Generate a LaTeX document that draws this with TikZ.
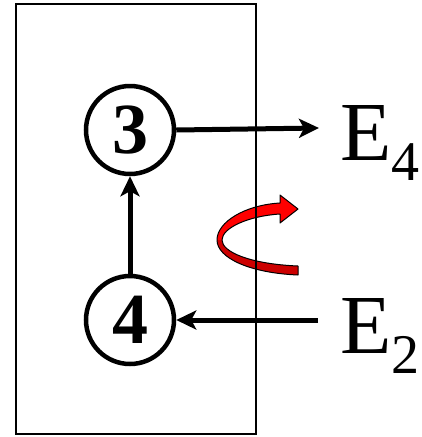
\documentclass[tikz,border=0pt]{standalone}
\usepackage{fontspec}
\setmainfont{Liberation Serif}
\usetikzlibrary{arrows.meta}
\begin{document}
\begin{tikzpicture}[x=1pt,y=-1pt,
  state/.style={circle,draw,line width=4.5pt,minimum size=88pt,inner sep=0pt,
    font=\fontsize{72}{72}\selectfont\bfseries},
  flow/.style={line width=5pt,-{Stealth[length=20pt,width=19pt,inset=5pt]}},
  elabel/.style={anchor=base west,inner sep=0pt,font=\fontsize{84}{84}\selectfont},
  sublabel/.style={anchor=base west,inner sep=0pt,font=\fontsize{56}{56}\selectfont},
  ribbon/.style={draw=black,line width=1pt,line join=round}]
\useasboundingbox (0,0) rectangle (421,437);
% red rotation arrow
\fill[red!80!black] (298,275) .. controls (250,273) and (217,258) .. (217,240)
  -- (222,240) .. controls (222,252) and (250,264) .. (298,266) -- cycle;
\fill[red] (217,240) .. controls (217,222) and (245,205) .. (280,203)
  -- (280,195) -- (298,209) -- (280,223) -- (280,214)
  .. controls (248,216) and (222,228) .. (222,240) -- cycle;
\draw[ribbon] (298,275) .. controls (250,273) and (217,258) .. (217,240)
  .. controls (217,222) and (245,205) .. (280,203)
  -- (280,195) -- (298,209) -- (280,223) -- (280,214)
  .. controls (248,216) and (222,228) .. (222,240)
  .. controls (222,252) and (250,264) .. (298,266) -- cycle;
% frame
\node[draw,line width=1.5pt,inner sep=0pt,minimum width=240pt,minimum height=430pt] (frame) at (136,219) {};
% states
\node[state] (s3) at (130,130) {3};
\node[state] (s4) at (130,320) {4};
\coordinate (e4end) at (319,128);
\coordinate (e2start) at (318,320);
\draw[flow] (s3.east) -- (e4end);
\draw[flow] (e2start) -- (s4.east);
\draw[flow] (s4.north) -- (s3.south);
% labels
\node[elabel] (E4) at (340,160) {E};
\node[sublabel] (E4s) at (391,180) {4};
\node[elabel] (E2) at (340,353) {E};
\node[sublabel] (E2s) at (391,373) {2};
\end{tikzpicture}
\end{document}
